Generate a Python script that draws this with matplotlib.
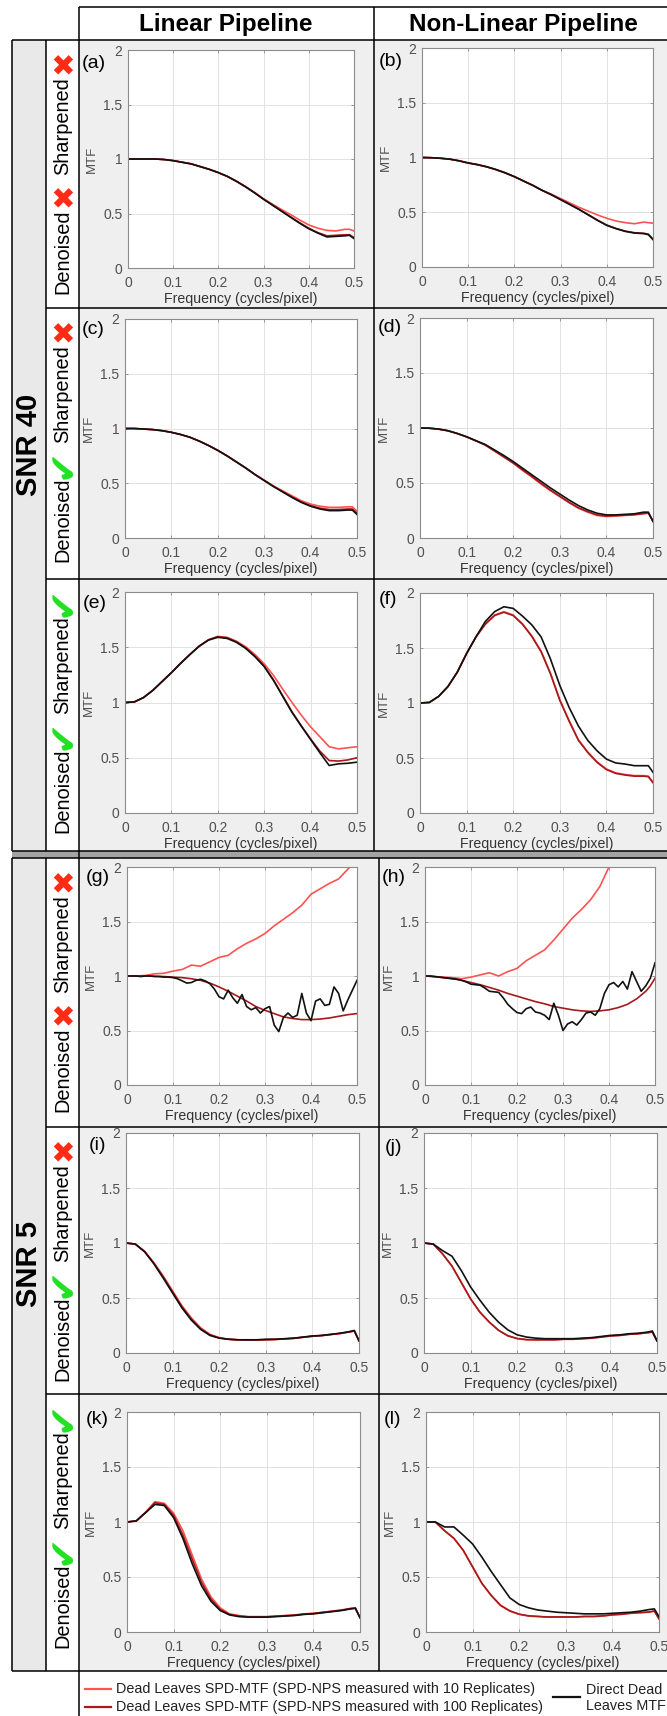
import numpy as np
import matplotlib
matplotlib.use("Agg")
import matplotlib.pyplot as plt
from matplotlib.patches import Rectangle

plt.rcParams['font.family'] = ['Liberation Sans', 'DejaVu Sans']

# ---- data ----
freq = [0, 0.02, 0.04, 0.06, 0.08, 0.10, 0.12, 0.14, 0.16, 0.18, 0.20, 0.22, 0.24,
        0.26, 0.28, 0.30, 0.32, 0.34, 0.36, 0.38, 0.40, 0.42, 0.44, 0.46, 0.48, 0.49, 0.50]
freq_fine = np.round(np.arange(51) * 0.01, 2)

# SNR 40
a_r10 = [1.0, 1.0, 1.0, 1.0, 0.995, 0.985, 0.97, 0.955, 0.93, 0.905, 0.875, 0.84, 0.797, 0.748,
         0.693, 0.635, 0.585, 0.535, 0.49, 0.44, 0.395, 0.365, 0.345, 0.34, 0.355, 0.355, 0.34]
a_r100 = [1.0, 1.0, 1.0, 1.0, 0.995, 0.985, 0.97, 0.955, 0.93, 0.905, 0.875, 0.84, 0.795, 0.745,
          0.69, 0.632, 0.578, 0.523, 0.468, 0.415, 0.365, 0.325, 0.295, 0.30, 0.305, 0.305, 0.28]
a_direct = [1.0, 1.0, 1.0, 1.0, 0.995, 0.985, 0.97, 0.955, 0.93, 0.905, 0.875, 0.84, 0.795, 0.745,
            0.69, 0.63, 0.575, 0.52, 0.465, 0.41, 0.36, 0.32, 0.285, 0.29, 0.295, 0.30, 0.27]

b_r10 = [1.0, 0.998, 0.993, 0.985, 0.97, 0.95, 0.935, 0.915, 0.89, 0.86, 0.825, 0.785, 0.745, 0.70,
         0.665, 0.625, 0.585, 0.545, 0.51, 0.475, 0.445, 0.42, 0.405, 0.395, 0.41, 0.405, 0.40]
b_r100 = [1.0, 0.998, 0.993, 0.985, 0.97, 0.95, 0.935, 0.915, 0.89, 0.86, 0.825, 0.785, 0.745, 0.70,
          0.66, 0.617, 0.572, 0.527, 0.478, 0.428, 0.383, 0.352, 0.328, 0.313, 0.308, 0.30, 0.255]
b_direct = [1.0, 0.998, 0.993, 0.985, 0.97, 0.95, 0.935, 0.915, 0.89, 0.86, 0.825, 0.785, 0.745, 0.70,
            0.66, 0.615, 0.57, 0.525, 0.475, 0.425, 0.38, 0.35, 0.325, 0.31, 0.305, 0.295, 0.25]

c_r10 = [1.0, 1.0, 0.995, 0.99, 0.98, 0.965, 0.945, 0.92, 0.885, 0.845, 0.80, 0.75, 0.695, 0.64,
         0.58, 0.527, 0.475, 0.43, 0.385, 0.34, 0.31, 0.29, 0.28, 0.28, 0.285, 0.285, 0.245]
c_r100 = [1.0, 1.0, 0.995, 0.99, 0.98, 0.965, 0.945, 0.92, 0.885, 0.845, 0.80, 0.75, 0.695, 0.64,
          0.58, 0.526, 0.472, 0.423, 0.375, 0.33, 0.295, 0.272, 0.26, 0.26, 0.265, 0.265, 0.225]
c_direct = [1.0, 1.0, 0.995, 0.99, 0.98, 0.965, 0.945, 0.92, 0.885, 0.845, 0.80, 0.75, 0.695, 0.64,
            0.58, 0.525, 0.47, 0.42, 0.37, 0.325, 0.29, 0.265, 0.25, 0.25, 0.255, 0.255, 0.215]

d_r10 = [1.0, 0.998, 0.99, 0.975, 0.95, 0.92, 0.883, 0.845, 0.79, 0.735, 0.68, 0.615, 0.555, 0.49,
         0.43, 0.375, 0.32, 0.27, 0.235, 0.205, 0.195, 0.20, 0.205, 0.21, 0.22, 0.225, 0.15]
d_r100 = [1.0, 0.998, 0.99, 0.975, 0.95, 0.92, 0.883, 0.846, 0.792, 0.738, 0.683, 0.62, 0.56, 0.495,
          0.435, 0.38, 0.325, 0.275, 0.24, 0.21, 0.20, 0.204, 0.208, 0.213, 0.223, 0.228, 0.155]
d_direct = [1.0, 0.998, 0.99, 0.975, 0.95, 0.92, 0.885, 0.85, 0.80, 0.75, 0.695, 0.635, 0.575, 0.515,
            0.455, 0.40, 0.345, 0.295, 0.255, 0.225, 0.21, 0.21, 0.215, 0.22, 0.235, 0.235, 0.15]

e_r10 = [1.0, 1.005, 1.045, 1.11, 1.19, 1.27, 1.355, 1.435, 1.51, 1.568, 1.598, 1.59, 1.555, 1.505,
         1.435, 1.35, 1.245, 1.12, 1.0, 0.885, 0.78, 0.69, 0.60, 0.58, 0.59, 0.595, 0.60]
e_r100 = [1.0, 1.005, 1.045, 1.11, 1.19, 1.27, 1.355, 1.435, 1.51, 1.567, 1.595, 1.585, 1.55, 1.495,
          1.42, 1.33, 1.205, 1.06, 0.915, 0.79, 0.67, 0.56, 0.475, 0.47, 0.48, 0.49, 0.50]
e_direct = [1.0, 1.005, 1.045, 1.11, 1.19, 1.27, 1.355, 1.435, 1.51, 1.565, 1.59, 1.58, 1.545, 1.49,
            1.415, 1.325, 1.20, 1.055, 0.91, 0.785, 0.665, 0.545, 0.43, 0.445, 0.45, 0.455, 0.46]

f_r10 = [1.0, 1.005, 1.06, 1.15, 1.28, 1.45, 1.60, 1.72, 1.80, 1.83, 1.80, 1.72, 1.61, 1.47,
         1.27, 1.03, 0.84, 0.665, 0.555, 0.465, 0.40, 0.365, 0.35, 0.34, 0.34, 0.335, 0.28]
f_r100 = [1.0, 1.005, 1.06, 1.15, 1.28, 1.45, 1.60, 1.715, 1.795, 1.825, 1.795, 1.715, 1.605, 1.465,
          1.265, 1.025, 0.835, 0.66, 0.55, 0.46, 0.395, 0.36, 0.345, 0.335, 0.335, 0.33, 0.275]
f_direct = [1.0, 1.005, 1.06, 1.15, 1.28, 1.45, 1.60, 1.74, 1.83, 1.875, 1.86, 1.79, 1.71, 1.60,
            1.40, 1.16, 0.96, 0.79, 0.66, 0.565, 0.49, 0.455, 0.445, 0.43, 0.43, 0.43, 0.37]

# SNR 5
g_r10 = [1.0, 1.0, 1.005, 1.02, 1.025, 1.045, 1.06, 1.10, 1.09, 1.13, 1.17, 1.19, 1.25, 1.30,
         1.34, 1.39, 1.46, 1.52, 1.58, 1.65, 1.75, 1.80, 1.85, 1.89, 1.98, 2.02, 2.06]
g_r100 = [1.0, 1.0, 1.0, 0.998, 0.995, 0.99, 0.985, 0.975, 0.96, 0.935, 0.90, 0.86, 0.815, 0.77,
          0.72, 0.685, 0.655, 0.625, 0.61, 0.60, 0.60, 0.605, 0.615, 0.63, 0.645, 0.65, 0.655]
g_direct = [1.00, 1.00, 1.00, 0.995, 1.00, 1.00, 0.995, 0.995, 0.99, 0.99,
            0.985, 0.975, 0.955, 0.935, 0.94, 0.96, 0.97, 0.955, 0.93, 0.88,
            0.81, 0.79, 0.87, 0.80, 0.75, 0.83, 0.72, 0.69, 0.71, 0.66,
            0.70, 0.72, 0.55, 0.49, 0.62, 0.66, 0.62, 0.64, 0.84, 0.66,
            0.59, 0.77, 0.79, 0.73, 0.74, 0.90, 0.84, 0.68, 0.78, 0.87, 0.96]

h_r10 = [1.0, 0.995, 0.99, 0.985, 0.975, 0.99, 1.01, 1.03, 1.00, 1.04, 1.07, 1.14, 1.19, 1.24,
         1.33, 1.43, 1.53, 1.61, 1.70, 1.82, 2.0, 2.12, 2.25, 2.38, 2.5, 2.55, 2.6]
h_r100 = [1.0, 0.995, 0.985, 0.975, 0.96, 0.94, 0.92, 0.895, 0.87, 0.84, 0.815, 0.79, 0.765, 0.745,
          0.72, 0.705, 0.69, 0.68, 0.675, 0.68, 0.69, 0.71, 0.74, 0.79, 0.86, 0.91, 0.98]
h_direct = [1.00, 1.00, 0.995, 0.99, 0.985, 0.98, 0.975, 0.97, 0.96, 0.945,
            0.925, 0.92, 0.915, 0.89, 0.86, 0.855, 0.85, 0.80, 0.74, 0.70,
            0.665, 0.655, 0.70, 0.715, 0.67, 0.66, 0.64, 0.60, 0.75, 0.64,
            0.50, 0.56, 0.58, 0.55, 0.60, 0.66, 0.67, 0.64, 0.70, 0.84,
            0.92, 0.94, 0.90, 0.95, 0.88, 1.04, 0.95, 0.86, 0.91, 0.98, 1.12]

i_r10 = [1.0, 0.99, 0.925, 0.82, 0.70, 0.565, 0.43, 0.32, 0.23, 0.17, 0.14, 0.125, 0.12, 0.118,
         0.118, 0.12, 0.123, 0.128, 0.133, 0.143, 0.152, 0.158, 0.168, 0.178, 0.192, 0.20, 0.11]
i_r100 = [1.0, 0.99, 0.922, 0.815, 0.69, 0.555, 0.42, 0.31, 0.222, 0.165, 0.137, 0.125, 0.12, 0.118,
          0.118, 0.12, 0.123, 0.128, 0.133, 0.143, 0.152, 0.158, 0.168, 0.178, 0.192, 0.20, 0.11]
i_direct = [1.0, 0.99, 0.92, 0.81, 0.68, 0.545, 0.41, 0.30, 0.215, 0.16, 0.135, 0.125, 0.12, 0.12,
            0.12, 0.125, 0.125, 0.13, 0.135, 0.145, 0.155, 0.16, 0.17, 0.18, 0.195, 0.205, 0.11]

j_r10 = [1.0, 0.99, 0.90, 0.79, 0.64, 0.49, 0.37, 0.28, 0.205, 0.155, 0.13, 0.12, 0.12, 0.12,
         0.12, 0.125, 0.125, 0.13, 0.135, 0.145, 0.155, 0.16, 0.17, 0.175, 0.185, 0.19, 0.11]
j_r100 = [1.0, 0.99, 0.90, 0.79, 0.642, 0.492, 0.372, 0.282, 0.207, 0.157, 0.132, 0.122, 0.12, 0.12,
          0.12, 0.125, 0.125, 0.13, 0.135, 0.145, 0.155, 0.16, 0.17, 0.175, 0.185, 0.19, 0.11]
j_direct = [1.0, 0.99, 0.93, 0.88, 0.75, 0.60, 0.48, 0.37, 0.28, 0.21, 0.165, 0.145, 0.135, 0.13,
            0.13, 0.13, 0.13, 0.135, 0.14, 0.15, 0.16, 0.165, 0.175, 0.18, 0.19, 0.20, 0.11]

k_r10 = [1.0, 1.01, 1.09, 1.185, 1.17, 1.08, 0.92, 0.70, 0.48, 0.32, 0.22, 0.165, 0.15, 0.14,
         0.14, 0.14, 0.145, 0.15, 0.155, 0.165, 0.17, 0.18, 0.19, 0.20, 0.215, 0.22, 0.13]
k_r100 = [1.0, 1.01, 1.087, 1.175, 1.16, 1.06, 0.88, 0.66, 0.45, 0.30, 0.205, 0.16, 0.145, 0.138,
          0.138, 0.138, 0.143, 0.148, 0.153, 0.163, 0.168, 0.178, 0.188, 0.198, 0.213, 0.218, 0.13]
k_direct = [1.0, 1.01, 1.085, 1.16, 1.15, 1.04, 0.85, 0.62, 0.42, 0.28, 0.195, 0.155, 0.14, 0.135,
            0.135, 0.135, 0.14, 0.145, 0.15, 0.16, 0.165, 0.175, 0.185, 0.195, 0.21, 0.215, 0.13]

l_r10 = [1.0, 1.0, 0.92, 0.85, 0.74, 0.59, 0.44, 0.33, 0.24, 0.19, 0.16, 0.145, 0.14, 0.135,
         0.135, 0.135, 0.135, 0.14, 0.14, 0.145, 0.155, 0.16, 0.17, 0.175, 0.18, 0.19, 0.12]
l_r100 = [1.0, 1.0, 0.92, 0.852, 0.743, 0.593, 0.443, 0.333, 0.243, 0.192, 0.162, 0.147, 0.142, 0.137,
          0.137, 0.137, 0.137, 0.142, 0.142, 0.147, 0.157, 0.162, 0.172, 0.177, 0.183, 0.192, 0.12]
l_direct = [1.0, 1.0, 0.955, 0.955, 0.88, 0.80, 0.68, 0.55, 0.43, 0.31, 0.25, 0.22, 0.20, 0.19,
            0.18, 0.175, 0.17, 0.165, 0.165, 0.165, 0.17, 0.175, 0.18, 0.19, 0.205, 0.21, 0.14]

panel_letters = ['a', 'b', 'c', 'd', 'e', 'f', 'g', 'h', 'i', 'j', 'k', 'l']
xtick_vals = [0, 0.1, 0.2, 0.3, 0.4, 0.5]
xtick_labels = ['0', '0.1', '0.2', '0.3', '0.4', '0.5']
ytick_vals = [0, 0.5, 1, 1.5, 2]
ytick_labels = ['0', '0.5', '1', '1.5', '2']
col_titles = ['Linear Pipeline', 'Non-Linear Pipeline']
snr_titles = ['SNR 40', 'SNR 5']
denoised_on = [False, True, True, False, True, True]
sharpened_on = [False, False, True, False, False, True]
legend_labels = ['Dead Leaves SPD-MTF (SPD-NPS measured with 10 Replicates)',
                 'Dead Leaves SPD-MTF (SPD-NPS measured with 100 Replicates)']
direct_label = 'Direct Dead\nLeaves MTF'

series = {
    'a': (a_r10, a_r100, a_direct), 'b': (b_r10, b_r100, b_direct),
    'c': (c_r10, c_r100, c_direct), 'd': (d_r10, d_r100, d_direct),
    'e': (e_r10, e_r100, e_direct), 'f': (f_r10, f_r100, f_direct),
    'g': (g_r10, g_r100, g_direct), 'h': (h_r10, h_r100, h_direct),
    'i': (i_r10, i_r100, i_direct), 'j': (j_r10, j_r100, j_direct),
    'k': (k_r10, k_r100, k_direct), 'l': (l_r10, l_r100, l_direct),
}

# ---- layout (pixels, y down) ----
W, H = 667, 1716
LIGHT = '#ff5252'
DARK = '#a51a1a'
BLACK = '#111111'
PANEL_BG = '#efefef'

boxes = {
    'a': (128, 50, 354, 268), 'b': (422, 48, 653, 267),
    'c': (125, 319, 357, 538), 'd': (420, 318, 653, 538),
    'e': (125, 592, 357, 813), 'f': (420, 593, 653, 813),
    'g': (127, 867, 357, 1085), 'h': (425, 867, 655, 1085),
    'i': (126, 1133, 359, 1353), 'j': (424, 1133, 657, 1353),
    'k': (127, 1412, 360, 1632), 'l': (426, 1412, 659, 1632),
}
label_pos = {
    'a': (82, 64), 'b': (379, 62), 'c': (82, 330), 'd': (378, 328),
    'e': (83, 603), 'f': (379, 600), 'g': (86, 878), 'h': (382, 878),
    'i': (89, 1146), 'j': (385, 1148), 'k': (86, 1419), 'l': (384, 1420),
}
row_tops = [40, 308, 579, 858, 1127, 1394]

fig = plt.figure(figsize=(W / 100, H / 100), dpi=100)
fig.patch.set_facecolor('white')

bg = fig.add_axes([0, 0, 1, 1])
bg.set_xlim(0, W)
bg.set_ylim(H, 0)
bg.axis('off')

# block fills
for top, bot in [(40, 851), (858, 1671)]:
    bg.add_patch(Rectangle((79, top), W - 79, bot - top, fc=PANEL_BG, ec='none'))
    bg.add_patch(Rectangle((12, top), 34, bot - top, fc='#e9e9e9', ec='none'))
bg.add_patch(Rectangle((12, 851), W - 12, 7, fc='#a3a3a3', ec='none'))

lw = 1.1
def hline(y, x0, x1):
    bg.plot([x0, x1], [y, y], color='black', lw=lw, solid_capstyle='butt')
def vline(x, y0, y1):
    bg.plot([x, x], [y0, y1], color='black', lw=lw, solid_capstyle='butt')

hline(7, 79, W)
hline(40, 12, W)
for y in [851, 858, 1671]:
    hline(y, 12, W)
for y in [308, 579, 1127, 1394]:
    hline(y, 46, W)
vline(79, 7, H)
vline(374, 7, 851)
vline(379, 858, 1671)
for x in [12, 46]:
    vline(x, 40, 851)
    vline(x, 858, 1671)

# headers
bg.text(226, 25, col_titles[0], fontsize=17.5, weight='bold', ha='center', va='center')
bg.text(523, 25, col_titles[1], fontsize=17.5, weight='bold', ha='center', va='center')
bg.text(29, 445, snr_titles[0], fontsize=21, weight='bold', rotation=90, ha='center', va='center')
bg.text(29, 1264, snr_titles[1], fontsize=21, weight='bold', rotation=90, ha='center', va='center')

def mark(y, on):
    if on:
        bg.text(63, y, '\u2714', color='#22e022', fontsize=27, rotation=90,
                ha='center', va='center', family='DejaVu Sans')
    else:
        bg.text(64, y, '\u2716', color='#ff2a14', fontsize=21, rotation=90,
                ha='center', va='center', family='DejaVu Sans')

for top, dn, sh in zip(row_tops, denoised_on, sharpened_on):
    bg.text(63, top + 212, 'Denoised', fontsize=14.4, rotation=90, ha='center', va='center')
    mark(top + 155, dn)
    bg.text(63, top + 86, 'Sharpened', fontsize=14.4, rotation=90, ha='center', va='center')
    mark(top + 22, sh)

# legend
bg.plot([85, 111], [1689, 1689], color=LIGHT, lw=1.6)
bg.plot([85, 111], [1707, 1707], color=DARK, lw=1.6)
bg.text(116, 1689, legend_labels[0], fontsize=10.4, ha='left', va='center', color='#222222')
bg.text(116, 1707, legend_labels[1], fontsize=10.4, ha='left', va='center', color='#222222')
bg.plot([553, 580], [1697, 1697], color=BLACK, lw=1.6)
bg.text(586, 1698, direct_label, fontsize=10.4, ha='left', va='center', color='#222222',
        linespacing=1.25)

# panels
for p in panel_letters:
    l, t, r, b = boxes[p]
    ax = fig.add_axes([l / W, 1 - b / H, (r - l) / W, (b - t) / H])
    r10, r100, direct = series[p]
    xd = freq_fine if len(direct) == len(freq_fine) else freq
    ax.plot(freq, r10, color=LIGHT, lw=1.2)
    ax.plot(freq, r100, color=DARK, lw=1.2)
    ax.plot(xd, direct, color=BLACK, lw=1.2)
    ax.set_xlim(0, 0.5)
    ax.set_ylim(0, 2)
    ax.set_xticks(xtick_vals)
    ax.set_xticklabels(xtick_labels)
    ax.set_yticks(ytick_vals)
    ax.set_yticklabels(ytick_labels)
    ax.get_yticklabels()[-1].set_fontsize(8)
    ax.grid(True, color='#e2e2e2', lw=0.7)
    ax.set_axisbelow(True)
    ax.tick_params(direction='in', length=2.5, width=0.6, color='#8c8c8c',
                   labelsize=10, labelcolor='#505050', top=True, right=True)
    ax.tick_params(axis='x', pad=6)
    ax.tick_params(axis='y', pad=4)
    for s in ax.spines.values():
        s.set_color('#8c8c8c')
        s.set_linewidth(0.8)
    wpx, hpx = r - l, b - t
    ax.set_ylabel('MTF', fontsize=9.5, color='#505050', va='center')
    ax.yaxis.set_label_coords(-36 / wpx, 0.5)
    ax.set_xlabel('Frequency (cycles/pixel)', fontsize=10.2, color='#333333', va='center')
    ax.xaxis.set_label_coords(0.5, -31 / hpx)
    lx, ly = label_pos[p]
    bg.text(lx, ly, '(' + p + ')', fontsize=14, ha='left', va='center')

fig.savefig('out.png', dpi=100, facecolor='white')
